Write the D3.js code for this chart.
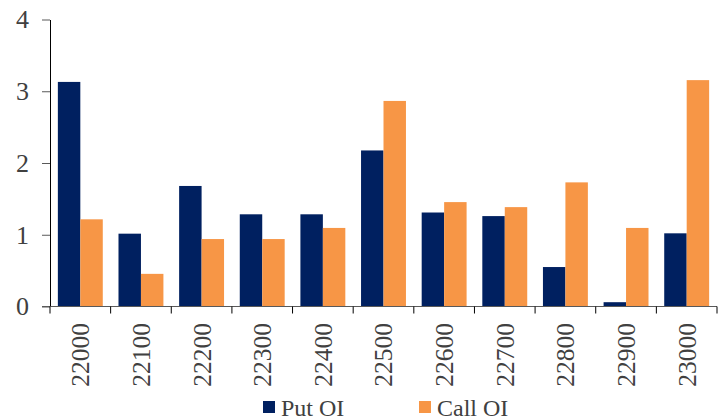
<!DOCTYPE html>
<html>
<head>
<meta charset="utf-8">
<script src="https://cdn.jsdelivr.net/npm/d3@7"></script>
<style>
  body { margin: 0; background: #fff; }
</style>
</head>
<body>
<div id="main"></div>
<script>
const strikes = ['22000','22100','22200','22300','22400','22500','22600','22700','22800','22900','23000'];
const putOI = [3.13, 1.015, 1.68, 1.285, 1.285, 2.175, 1.31, 1.26, 0.55, 0.06, 1.02];
const callOI = [1.215, 0.455, 0.94, 0.94, 1.095, 2.865, 1.455, 1.385, 1.73, 1.095, 3.155];
const seriesNames = ['Put OI', 'Call OI'];
const colors = ['#002060', '#F79646'];
const yTicks = [0, 1, 2, 3, 4];

const width = 721;
const height = 420;
const font = 'Liberation Serif';

const svg = d3.select('#main')
  .append('svg')
  .attr('width', width)
  .attr('height', height);

const x = d3.scaleBand().domain(strikes).range([50, 717]).paddingInner(0).paddingOuter(0);
const x1 = d3.scaleBand().domain(seriesNames).range([0, x.bandwidth()]).paddingInner(0).paddingOuter(0.35);
const y = d3.scaleLinear().domain([0, 4]).range([306.5, 19.5]);

const rows = strikes.map((s, i) => ({ strike: s, values: [putOI[i], callOI[i]] }));

// bars
const groups = svg.append('g')
  .selectAll('g')
  .data(rows)
  .enter()
  .append('g')
  .attr('transform', (d) => 'translate(' + x(d.strike) + ',0)');

groups.selectAll('rect')
  .data((d) => d.values.map((v, j) => ({ name: seriesNames[j], v: v, j: j })))
  .enter()
  .append('rect')
  .attr('x', (d) => x1(d.name))
  .attr('y', (d) => y(d.v))
  .attr('width', x1.bandwidth())
  .attr('height', (d) => y(0) - y(d.v))
  .style('fill', (d) => colors[d.j]);

// y axis
const yAxis = svg.append('g')
  .attr('transform', 'translate(50,0)')
  .call(d3.axisLeft(y).tickValues(yTicks).tickFormat(d3.format('d')).tickSize(8).tickSizeOuter(0).tickPadding(13));
yAxis.attr('font-family', font);
yAxis.select('.domain').attr('stroke', '#000');
yAxis.selectAll('.tick line').attr('stroke', '#595959');
yAxis.selectAll('text').attr('font-family', font).attr('font-size', 26).attr('fill', '#404040');

// x axis: labels centred in bands, ticks on band edges
const xAxis = svg.append('g')
  .attr('transform', 'translate(0,' + y(0) + ')')
  .call(d3.axisBottom(x).tickSize(0).tickSizeOuter(0));
xAxis.attr('font-family', font);
xAxis.select('.domain').remove();
xAxis.selectAll('text')
  .attr('font-family', font)
  .attr('font-size', 25.5)
  .attr('fill', '#404040')
  .attr('transform', 'rotate(-90)')
  .attr('x', -16.5)
  .attr('y', 0)
  .attr('dy', '0.35em')
  .attr('text-anchor', 'end');

xAxis.append('line')
  .attr('x1', 42).attr('x2', x.range()[1])
  .attr('y1', 0).attr('y2', 0)
  .attr('stroke', '#595959');

xAxis.selectAll('.bound')
  .data(strikes.map((s) => x(s)).concat([x.range()[1]]))
  .enter()
  .append('line')
  .attr('class', 'bound')
  .attr('x1', (d) => d).attr('x2', (d) => d)
  .attr('y1', 0).attr('y2', 7)
  .attr('stroke', '#000');

// legend
const legend = svg.append('g').attr('id', 'legend');
const legendX = [263, 419];
seriesNames.forEach((n, i) => {
  legend.append('rect')
    .attr('x', legendX[i]).attr('y', 401)
    .attr('width', 12).attr('height', 12)
    .style('fill', colors[i]);
  legend.append('text')
    .attr('x', legendX[i] + 18).attr('y', 416)
    .attr('font-family', font)
    .attr('font-size', 24)
    .attr('fill', '#404040')
    .text(n);
});
</script>
</body>
</html>
